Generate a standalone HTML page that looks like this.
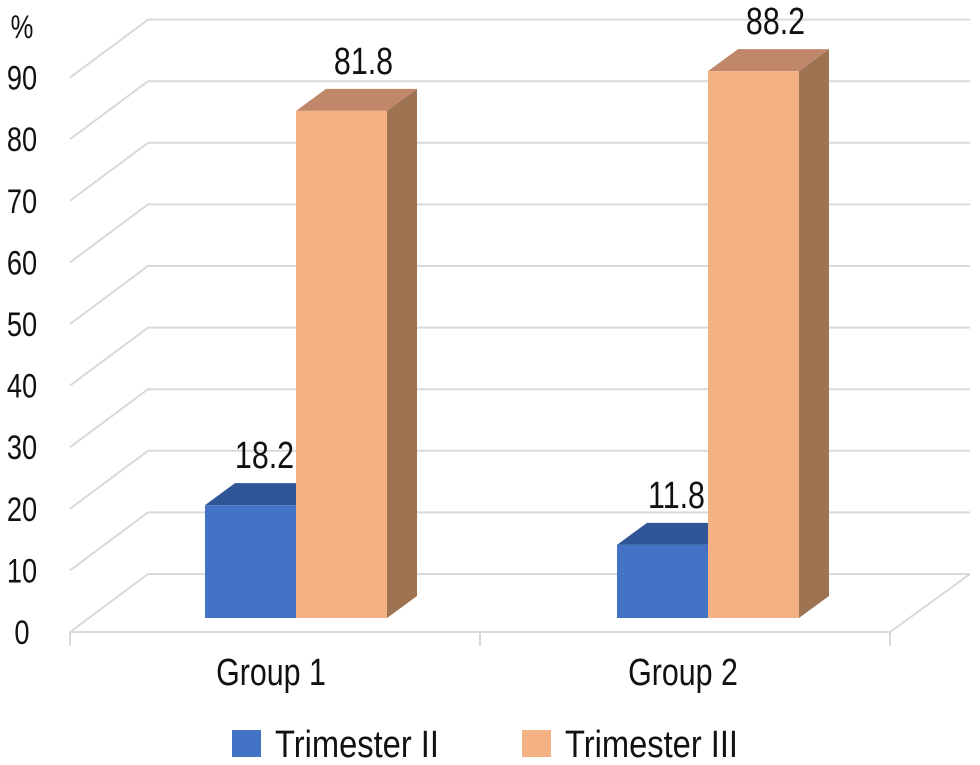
<!DOCTYPE html>
<html><head><meta charset="utf-8"><style>
body{margin:0;background:#fff}
svg{display:block}
text{font-family:"Liberation Sans Narrow","Liberation Sans",sans-serif;fill:#111}
</style></head><body>
<svg id="c" width="980" height="765" viewBox="0 0 980 765" xmlns="http://www.w3.org/2000/svg"></svg>
<script>
const categories = ["Group 1", "Group 2"];
const seriesNames = ["Trimester II", "Trimester III"];
const trim2 = [18.2, 11.8];
const trim3 = [81.8, 88.2];
const yTicks = [0,10,20,30,40,50,60,70,80,90];

const NS="http://www.w3.org/2000/svg";
const svg=document.getElementById('c');
function el(tag,attrs,parent){const e=document.createElementNS(NS,tag);for(const k in attrs)e.setAttribute(k,attrs[k]);(parent||svg).appendChild(e);return e;}
function txt(x,y,size,anchor,str,parent,sx){
  const t=el('text',{x:0,y:0,'font-size':size,'text-anchor':anchor,transform:`translate(${x},${y}) scale(${sx||0.8},1)`},parent);
  t.textContent=str;return t;
}
const unit=6.16, fy0=632, dx=78, dy=-58, xL=70, xR=890;
function yFront(v){return fy0-v*unit;}
yTicks.forEach(v=>{
  const y=yFront(v);
  const g=el('polyline',{points:`${xL},${y} ${xL+dx},${y+dy} 970,${y+dy}`,fill:'none',stroke:'#d9d9d9','stroke-width':2});
  
  
  const t=txt(22,y+12,34,'middle',String(v));
  
  
});
const pct=txt(22,38,32,'middle','%');


const fl=el('polyline',{points:`${xL},${fy0} ${xR},${fy0} 970,${fy0+dy}`,fill:'none',stroke:'#d9d9d9','stroke-width':2});


[70,480,890].forEach((x,i)=>{const t=el('line',{x1:x,y1:fy0,x2:x,y2:646,stroke:'#d9d9d9','stroke-width':2});

});
const bw=91, bdx=30, bdy=-22, by0=618, bu=6.2;
const groupX=[205,617];
const labels=[];
function bar(x,v,front,top,side,name,off){
  const g=el('g',{});
  
  
  const yt=by0-v*bu;
  el('polygon',{points:`${x+bw},${by0} ${x+bw+bdx},${by0+bdy} ${x+bw+bdx},${yt+bdy} ${x+bw},${yt}`,fill:side},g);
  el('polygon',{points:`${x},${yt} ${x+bdx},${yt+bdy} ${x+bw+bdx},${yt+bdy} ${x+bw},${yt}`,fill:top},g);
  el('rect',{x:x,y:yt,width:bw,height:by0-yt,fill:front},g);
  labels.push([x+bw/2+off,yt+bdy-15,v.toFixed(1)]);
}
categories.forEach((c,i)=>{
  bar(groupX[i],trim2[i],'#4472C4','#2F5597','#2F5597','bar-trimester2-'+(i+1),14);
  bar(groupX[i]+bw,trim3[i],'#F4B183','#C0876A','#9E7352','bar-trimester3-'+(i+1),22);
  const t=txt(groupX[i]+66,685,38,'middle',c);
  
  
});
labels.forEach(l=>{
  const t=txt(l[0],l[1],38,'middle',l[2]);
  
  
});
const lg=[[232,'#4472C4',275],[522,'#F4B183',565]];
seriesNames.forEach((n,i)=>{
  const g=el('g',{});
  
  
  el('rect',{x:lg[i][0],y:730,width:29,height:27,fill:lg[i][1]},g);
  txt(lg[i][2],757,38,'start',n,g,0.86);
});
</script>
</body></html>
